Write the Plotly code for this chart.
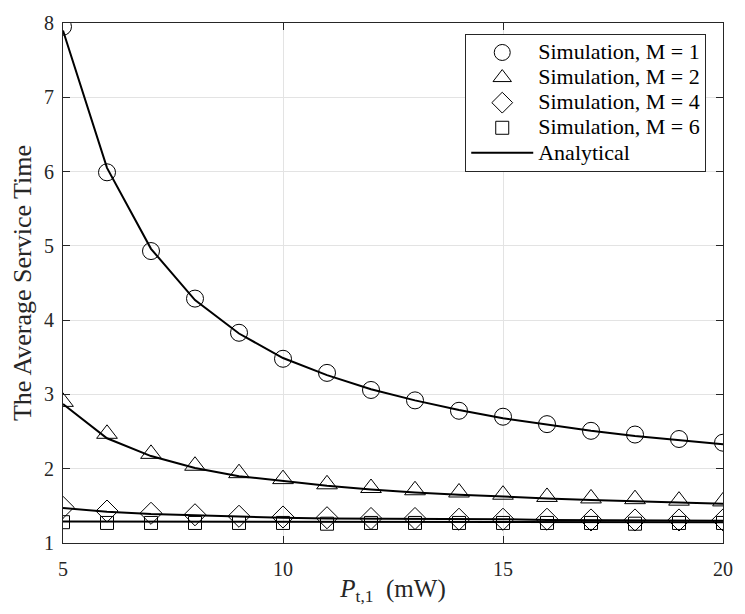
import plotly.graph_objects as go

x_vals = [5, 6, 7, 8, 9, 10, 11, 12, 13, 14, 15, 16, 17, 18, 19, 20]

sim_m1 = [7.95, 5.99, 4.93, 4.29, 3.83, 3.48, 3.29, 3.06, 2.92, 2.78, 2.70, 2.60, 2.51, 2.46, 2.40, 2.35]
sim_m2 = [2.90, 2.47, 2.20, 2.04, 1.94, 1.86, 1.79, 1.74, 1.71, 1.68, 1.65, 1.62, 1.60, 1.59, 1.57, 1.56]
sim_m4 = [1.48, 1.43, 1.40, 1.38, 1.36, 1.35, 1.34, 1.33, 1.33, 1.32, 1.32, 1.32, 1.31, 1.31, 1.31, 1.31]
sim_m6 = [1.28, 1.27, 1.27, 1.27, 1.27, 1.27, 1.26, 1.27, 1.27, 1.27, 1.27, 1.27, 1.27, 1.26, 1.27, 1.27]

ana_m1 = [7.90, 6.05, 4.96, 4.27, 3.82, 3.49, 3.26, 3.07, 2.92, 2.79, 2.68, 2.59, 2.51, 2.44, 2.38, 2.33]
ana_m2 = [2.87, 2.41, 2.17, 2.01, 1.90, 1.83, 1.77, 1.72, 1.68, 1.65, 1.62, 1.60, 1.58, 1.56, 1.54, 1.53]
ana_m4 = [1.47, 1.42, 1.39, 1.37, 1.35, 1.34, 1.33, 1.33, 1.32, 1.32, 1.32, 1.31, 1.31, 1.31, 1.31, 1.30]
ana_m6 = [1.29, 1.29, 1.28, 1.28, 1.28, 1.28, 1.28, 1.28, 1.28, 1.28, 1.28, 1.28, 1.28, 1.28, 1.28, 1.28]

x_ticks = [5, 10, 15, 20]
y_ticks = [1, 2, 3, 4, 5, 6, 7, 8]

sim_series = [
    ("Simulation, M = 1", sim_m1, "circle-open", 17),
    ("Simulation, M = 2", sim_m2, "triangle-up-open", 18),
    ("Simulation, M = 4", sim_m4, "diamond-open", 17),
    ("Simulation, M = 6", sim_m6, "square-open", 13),
]
ana_series = [ana_m1, ana_m2, ana_m4, ana_m6]


def legend_label(text):
    return '<span style="font-size:22px">' + text + "</span>"


fig = go.Figure()
for name, ys, sym, sz in sim_series:
    fig.add_trace(go.Scatter(
        x=x_vals, y=ys, mode="markers", name=legend_label(name),
        marker=dict(symbol=sym, size=sz, color="black", line=dict(width=1, color="black")),
    ))
for i, ys in enumerate(ana_series):
    fig.add_trace(go.Scatter(
        x=x_vals, y=ys, mode="lines", name=legend_label("Analytical"),
        line=dict(color="black", width=2),
        showlegend=(i == 0), legendgroup="ana",
    ))

font_family = "Liberation Serif, Times New Roman, serif"
fig.update_layout(
    width=729, height=598,
    margin=dict(l=55, r=4, t=8, b=62),
    paper_bgcolor="white", plot_bgcolor="white",
    font=dict(family=font_family, size=20, color="#262626"),
    showlegend=True,
    legend=dict(
        x=0.9746, y=0.979, xanchor="right", yanchor="top",
        bgcolor="white", bordercolor="#262626", borderwidth=1,
        font=dict(family=font_family, size=17, color="black"),
        tracegroupgap=0, itemwidth=62,
    ),
    xaxis=dict(
        range=[5, 20], tickvals=x_ticks, ticks="inside", ticklen=7,
        ticklabelstandoff=8, ticklabeloverflow="allow",
        tickfont=dict(family=font_family, size=20, color="#262626"),
        showgrid=True, gridcolor="#e3e3e3", gridwidth=1,
        showline=True, linecolor="#262626", linewidth=1, mirror="ticks",
        zeroline=False, tickcolor="#262626",
        title=dict(text="<i>P</i><sub>t,1</sub>&nbsp;&nbsp;(mW)", standoff=4,
                   font=dict(family=font_family, size=25, color="#262626")),
    ),
    yaxis=dict(
        range=[1, 8], tickvals=y_ticks, ticks="inside", ticklen=7,
        ticklabelstandoff=4, ticklabeloverflow="allow",
        tickfont=dict(family=font_family, size=20, color="#262626"),
        showgrid=True, gridcolor="#e3e3e3", gridwidth=1,
        showline=True, linecolor="#262626", linewidth=1, mirror="ticks",
        zeroline=False, tickcolor="#262626",
        title=dict(text="The Average Service Time", standoff=4,
                   font=dict(family=font_family, size=26, color="#262626")),
    ),
)

fig.write_html("out.html")
